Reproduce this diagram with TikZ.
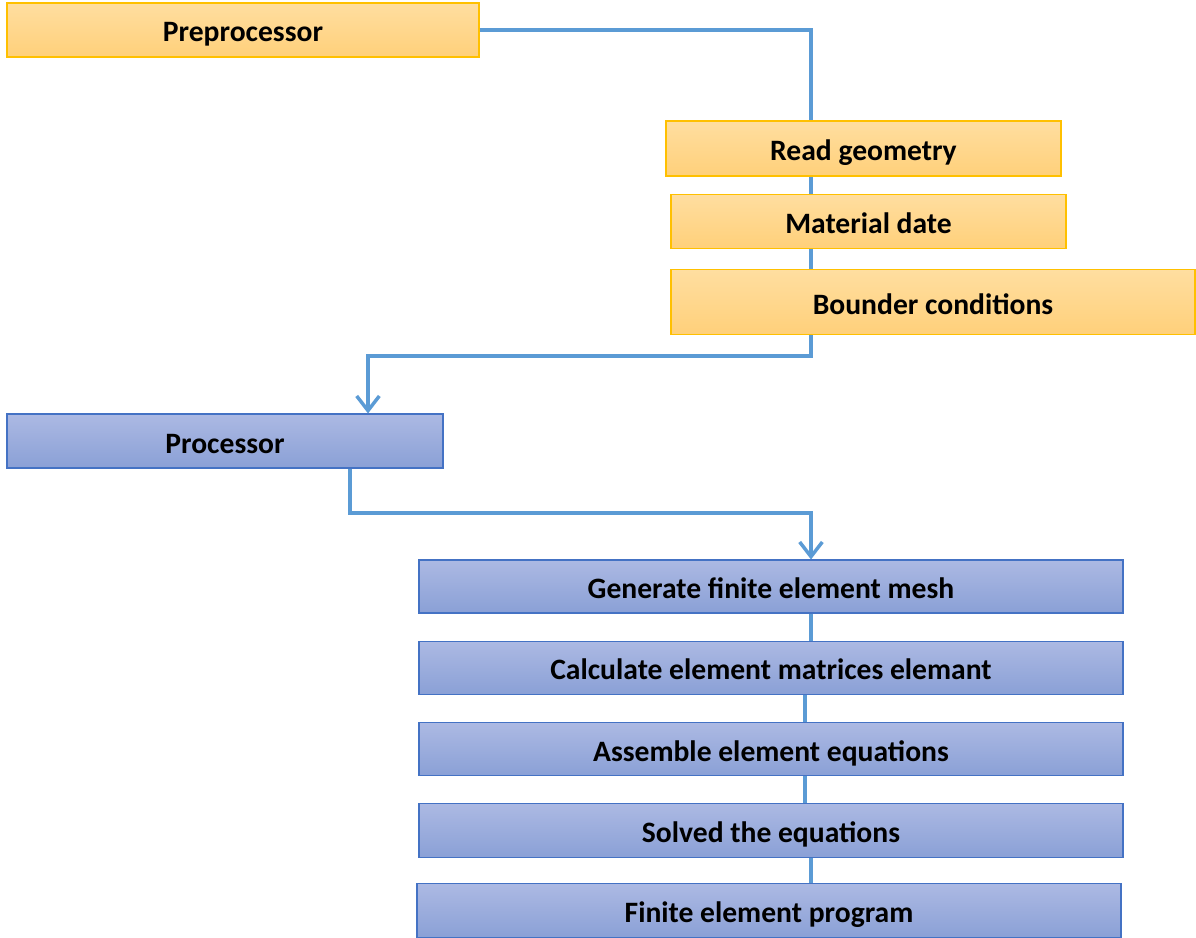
\documentclass[tikz,border=0pt]{standalone}
\usepackage{fontspec}
\setmainfont{Carlito}
\usepackage{tikz}
\usetikzlibrary{arrows.meta,positioning}
\usepackage{xcolor}
\definecolor{feorange}{RGB}{255,192,0}
\definecolor{feorangetop}{RGB}{255,222,160}
\definecolor{feorangebot}{RGB}{255,208,122}
\definecolor{feblue}{RGB}{68,114,196}
\definecolor{febluetop}{RGB}{172,185,227}
\definecolor{febluebot}{RGB}{138,160,214}
\definecolor{feline}{RGB}{91,155,213}
\tikzstyle{link} = [line width=2.6pt, color=feline]
\tikzstyle{arrow} = [link, -{Straight Barb[length=11pt,width=17pt]}]
\tikzstyle{prestep} = [rectangle, minimum height=40.5pt, text centered, text height=18pt, text depth=0pt, draw=feorange, line width=0.8pt, top color=feorangetop, bottom color=feorangebot, font=\fontsize{22.2}{26}\selectfont\bfseries]
\tikzstyle{procstep} = [rectangle, minimum width=528pt, minimum height=39.75pt, text centered, text height=18pt, text depth=0pt, draw=feblue, line width=0.8pt, top color=febluetop, bottom color=febluebot, font=\fontsize{22.2}{26}\selectfont\bfseries]

\begin{document}
\begin{tikzpicture}[x=0.75pt, y=-0.75pt]
\useasboundingbox (0,0) rectangle (1196,938);

% Guide lines
\coordinate (trunk) at (811,0);
\coordinate (trunkb) at (805,0);
\coordinate (bend1) at (368,356);
\coordinate (bend2) at (350,513);

% Preprocessor
\node (pre) [prestep, minimum width=354pt] at (243,30) {Preprocessor};
\node (read) [prestep, minimum width=296.25pt, minimum height=41.25pt] at (863.5,148.5) {Read geometry};
\node (mat) [prestep, minimum width=296.25pt, below=12.75pt of read.south west, anchor=north west, xshift=3.75pt] {Material date};
\node (bound) [prestep, minimum width=393pt, minimum height=48.75pt, below=15.5pt of mat.south west, anchor=north west] {Bounder conditions};

% Processor
\node (proc) [procstep, minimum width=327pt, minimum height=40.5pt] at (225,441) {Processor};
\node (gen) [procstep] at (771,586.5) {Generate finite element mesh};
\node (calc) [procstep, below=20.5pt of gen] {Calculate element matrices elemant};
\node (asm) [procstep, below=20.5pt of calc] {Assemble element equations};
\node (sol) [procstep, below=20pt of asm, minimum height=40.5pt] {Solved the equations};
\node (fin) [procstep, below=19pt of sol, xshift=-1.5pt, minimum height=40.5pt] {Finite element program};

% Lines
\draw[link] (pre.east) -| (trunk |- read.north);
\draw[link] (trunk |- read.south) -- (trunk |- mat.north);
\draw[link] (trunk |- mat.south) -- (trunk |- bound.north);
\draw[arrow] (trunk |- bound.south) |- (bend1) -- (bend1 |- proc.north);
\draw[arrow] (bend2 |- proc.south) -- (bend2) -| (trunk |- gen.north);
\draw[link] (trunk |- gen.south) -- (trunk |- calc.north);
\draw[link] (trunkb |- calc.south) -- (trunkb |- asm.north);
\draw[link] (trunkb |- asm.south) -- (trunkb |- sol.north);
\draw[link] (trunk |- sol.south) -- (trunk |- fin.north);
\end{tikzpicture}
\end{document}
